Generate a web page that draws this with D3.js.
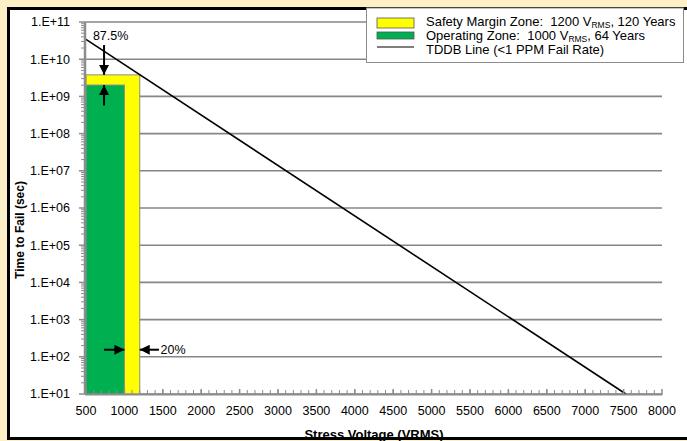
<!DOCTYPE html>
<html>
<head>
<meta charset="utf-8">
<script src="https://cdn.jsdelivr.net/npm/d3@7"></script>
<style>
  body { margin: 0; background: #fdf0c6; }
  svg { display: block; font-family: "Liberation Sans", Arial, sans-serif; }
</style>
</head>
<body>
<div id="app"></div>
<script>
// data
const xTicks = [500, 1000, 1500, 2000, 2500, 3000, 3500, 4000, 4500, 5000, 5500, 6000, 6500, 7000, 7500, 8000];
const yTicks = [1e1, 1e2, 1e3, 1e4, 1e5, 1e6, 1e7, 1e8, 1e9, 1e10, 1e11];
const yTickLabels = ['1.E+01', '1.E+02', '1.E+03', '1.E+04', '1.E+05', '1.E+06', '1.E+07', '1.E+08', '1.E+09', '1.E+10', '1.E+11'];
// zones: [voltage start, voltage end, time to fail (sec)]
const safetyZone = [500, 1200, 3.79e9];
const operatingZone = [500, 1000, 2.02e9];
// TDDB line points [voltage, sec]
const tddbLine = [[500, 3.4e10], [7530, 1e1]];
// annotation arrows [[x0, y0], [x1, y1]] (head at second point)
const arrows = [
  [[735, 2.4e10], [735, 3.79e9]],
  [[735, 5.7e8], [735, 2.02e9]],
  [[735, 155], [1000, 155]],
  [[1450, 155], [1200, 155]]
];
const notes = [[590, 4.2e10, '87.5%'], [1470, 155, '20%']];

const W = 687, H = 441;
const svg = d3.select('#app').append('svg').attr('width', W).attr('height', H);

// white frame with black border
svg.append('rect').attr('x', 8.5).attr('y', 8.5).attr('width', W + 10).attr('height', 430)
  .attr('fill', '#fff').attr('stroke', '#000').attr('stroke-width', 3);

const x = d3.scaleLinear().domain([500, 8000]).range([86, 662]);
const y = d3.scaleLog().domain([1e1, 1e11]).range([394, 22]);

// gridlines
svg.append('g').selectAll('line').data(yTicks).enter().append('line')
  .attr('x1', x(500)).attr('x2', x(8000))
  .attr('y1', d => y(d)).attr('y2', d => y(d))
  .attr('stroke', '#868686').attr('stroke-width', 1.6);

// zones
svg.append('rect')
  .attr('x', x(safetyZone[0])).attr('y', y(safetyZone[2]))
  .attr('width', x(safetyZone[1]) - x(safetyZone[0])).attr('height', y(1e1) - y(safetyZone[2]))
  .attr('fill', '#ffff00').attr('stroke', '#8c8c8c').attr('stroke-width', 1);
svg.append('rect')
  .attr('x', x(operatingZone[0])).attr('y', y(operatingZone[2]))
  .attr('width', x(operatingZone[1]) - x(operatingZone[0])).attr('height', y(1e1) - y(operatingZone[2]))
  .attr('fill', '#00b050').attr('stroke', '#8c8c8c').attr('stroke-width', 1);

// TDDB line
svg.append('path').datum(tddbLine)
  .attr('d', d3.line().x(d => x(d[0])).y(d => y(d[1])))
  .attr('fill', 'none').attr('stroke', '#000').attr('stroke-width', 1.6);

// y axis
const minorY = [];
for (let e = 1; e < 11; e++) for (let m = 2; m <= 9; m++) minorY.push(m * Math.pow(10, e));
svg.append('g').selectAll('line').data(minorY).enter().append('line')
  .attr('x1', 81).attr('x2', 86).attr('y1', d => y(d)).attr('y2', d => y(d))
  .attr('stroke', '#8c8c8c').attr('stroke-width', 1);
svg.append('g').selectAll('line').data(yTicks).enter().append('line')
  .attr('x1', 79).attr('x2', 86).attr('y1', d => y(d)).attr('y2', d => y(d))
  .attr('stroke', '#8c8c8c').attr('stroke-width', 1.5);
svg.append('line').attr('x1', 85).attr('x2', 85).attr('y1', y(1e11)).attr('y2', y(1e1))
  .attr('stroke', '#8c8c8c').attr('stroke-width', 2.5);
svg.append('g').selectAll('text').data(yTicks).enter().append('text')
  .attr('x', 70).attr('y', d => y(d)).attr('dy', '0.35em')
  .attr('text-anchor', 'end').attr('font-size', '12.5px').attr('fill', '#000')
  .text((d, i) => yTickLabels[i]);

// x axis
const minorX = d3.range(600, 8000, 100);
svg.append('g').selectAll('line').data(minorX).enter().append('line')
  .attr('x1', d => x(d)).attr('x2', d => x(d)).attr('y1', 394).attr('y2', 390)
  .attr('stroke', '#8c8c8c').attr('stroke-width', 1);
svg.append('g').selectAll('line').data(xTicks).enter().append('line')
  .attr('x1', d => x(d)).attr('x2', d => x(d)).attr('y1', 395).attr('y2', 389)
  .attr('stroke', '#8c8c8c').attr('stroke-width', 1.5);
svg.append('line').attr('x1', x(500) - 1).attr('x2', x(8000)).attr('y1', 394.5).attr('y2', 394.5)
  .attr('stroke', '#8c8c8c').attr('stroke-width', 2);
svg.append('g').selectAll('text').data(xTicks).enter().append('text')
  .attr('x', d => x(d)).attr('y', 415)
  .attr('text-anchor', 'middle').attr('font-size', '12.5px').attr('fill', '#000')
  .text(d => d);

// axis titles
svg.append('text').attr('x', 374).attr('y', 439)
  .attr('text-anchor', 'middle').attr('font-size', '13px').attr('font-weight', '700')
  .text('Stress Voltage (VRMS)');
svg.append('text').attr('transform', 'translate(24,230) rotate(-90)')
  .attr('text-anchor', 'middle').attr('font-size', '12px').attr('font-weight', '700')
  .text('Time to Fail (sec)');

// arrows
const defs = svg.append('defs');
defs.append('marker').attr('id', 'head').attr('viewBox', '0 0 10 10')
  .attr('refX', 10).attr('refY', 5).attr('markerWidth', 5).attr('markerHeight', 5)
  .attr('markerUnits', 'strokeWidth').attr('orient', 'auto')
  .append('path').attr('d', 'M0,0L10,5L0,10Z').attr('fill', '#000');
svg.append('g').selectAll('line').data(arrows).enter().append('line')
  .attr('x1', d => x(d[0][0])).attr('y1', d => y(d[0][1]))
  .attr('x2', d => x(d[1][0])).attr('y2', d => y(d[1][1]))
  .attr('stroke', '#000').attr('stroke-width', 2).attr('marker-end', 'url(#head)');
svg.append('g').selectAll('text').data(notes).enter().append('text')
  .attr('x', d => x(d[0])).attr('y', d => y(d[1])).attr('dy', '0.35em')
  .attr('font-size', '12.5px').attr('fill', '#000')
  .text(d => d[2]);

// legend
const lg = svg.append('g');
lg.append('rect').attr('x', 366.5).attr('y', 8).attr('width', 317).attr('height', 54.5)
  .attr('fill', '#fff').attr('stroke', '#8c8c8c').attr('stroke-width', 1);
lg.append('rect').attr('x', 377).attr('y', 18).attr('width', 37).attr('height', 10)
  .attr('fill', '#ffff00').attr('stroke', '#555').attr('stroke-width', 0.8);
lg.append('rect').attr('x', 377).attr('y', 32).attr('width', 37).attr('height', 7)
  .attr('fill', '#00b050').attr('stroke', '#555').attr('stroke-width', 0.8);
lg.append('line').attr('x1', 377).attr('x2', 414).attr('y1', 47).attr('y2', 47)
  .attr('stroke', '#000').attr('stroke-width', 1.2);
const legendRows = [
  ['Safety Margin Zone:  1200 V', 'RMS', ', 120 Years', 26],
  ['Operating Zone:  1000 V', 'RMS', ', 64 Years', 40],
  ['TDDB Line (<1 PPM Fail Rate)', '', '', 54]
];
legendRows.forEach(r => {
  const t = lg.append('text').attr('x', 426).attr('y', r[3]).attr('font-size', '13px')
    .attr('xml:space', 'preserve');
  t.append('tspan').text(r[0]);
  if (r[1]) {
    t.append('tspan').attr('font-size', '8.5px').attr('dy', 1.5).text(r[1]);
    t.append('tspan').attr('dy', -1.5).text(r[2]);
  }
});
</script>
</body>
</html>
